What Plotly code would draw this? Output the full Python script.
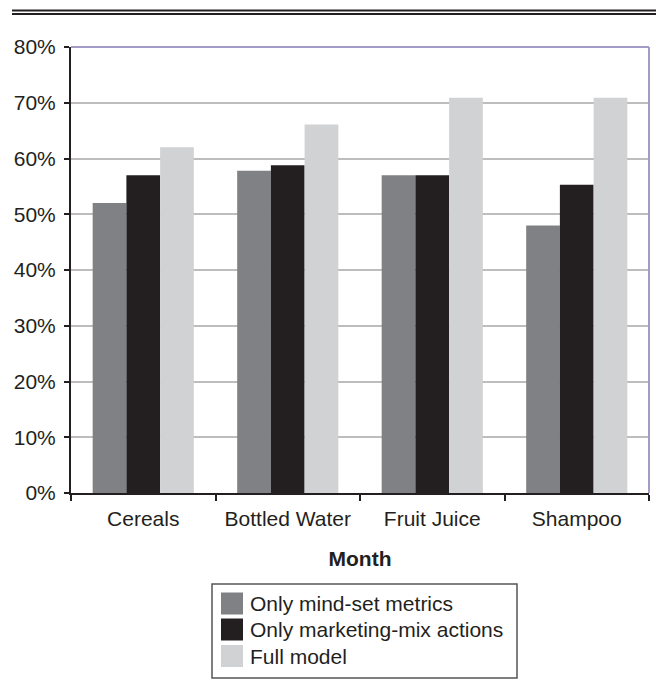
import plotly.graph_objects as go

# Categories and series (share of variance explained)
categories = ["Cereals", "Bottled Water", "Fruit Juice", "Shampoo"]
series_names = ["Only mind-set metrics", "Only marketing-mix actions", "Full model"]
mindset = [0.52, 0.578, 0.57, 0.48]
marketing_mix = [0.57, 0.588, 0.57, 0.553]
full_model = [0.62, 0.661, 0.709, 0.709]
series_values = [mindset, marketing_mix, full_model]
series_colors = ["#808184", "#231f20", "#d1d2d4"]
y_ticks = [0, 0.1, 0.2, 0.3, 0.4, 0.5, 0.6, 0.7, 0.8]
x_title = "Month"

W, H = 656, 683
ML, MR, MT, MB = 71, 7, 47, 190
PW, PH = W - ML - MR, H - MT - MB
FS = 21


def px_x(x):
    return (x - ML) / PW


def px_y(y):
    return (H - MB - y) / PH


fig = go.Figure()
for name, vals, col in zip(series_names, series_values, series_colors):
    fig.add_trace(go.Bar(x=categories, y=vals, name=name,
                         marker=dict(color=col, line=dict(width=0))))

font = "Liberation Sans, Arial, Helvetica, sans-serif"
shapes = []
# double rule across the top of the page
for y, w in [(10.5, 2), (14, 2)]:
    shapes.append(dict(type="line", xref="paper", yref="paper",
                       x0=px_x(12), x1=px_x(656), y0=px_y(y), y1=px_y(y),
                       line=dict(color="#231f20", width=w)))
# purple frame on top and right of the plot area
shapes.append(dict(type="line", xref="paper", yref="paper", x0=0, x1=1, y0=1, y1=1,
                   line=dict(color="#a49cc6", width=2)))
shapes.append(dict(type="line", xref="paper", yref="paper", x0=1, x1=1, y0=0, y1=1,
                   line=dict(color="#a49cc6", width=2)))

# legend box with square swatches
shapes.append(dict(type="rect", xref="paper", yref="paper",
                   x0=px_x(212), x1=px_x(517), y0=px_y(584), y1=px_y(678),
                   line=dict(color="#555555", width=1.5), fillcolor="white"))
annotations = []
row_centers = [603.5, 629.5, 656]
for name, col, yc in zip(series_names, series_colors, row_centers):
    shapes.append(dict(type="rect", xref="paper", yref="paper",
                       x0=px_x(221), x1=px_x(243), y0=px_y(yc - 11), y1=px_y(yc + 11),
                       line=dict(width=0), fillcolor=col))
    annotations.append(dict(xref="paper", yref="paper", x=px_x(248), y=px_y(yc),
                            text=name, showarrow=False, xanchor="left", yanchor="middle",
                            font=dict(family=font, size=FS, color="#231f20")))

fig.update_layout(
    width=W, height=H,
    margin=dict(l=ML, r=MR, t=MT, b=MB),
    paper_bgcolor="white", plot_bgcolor="white",
    barmode="group", bargap=0.3, bargroupgap=0,
    showlegend=False,
    font=dict(family=font, size=FS, color="#231f20"),
    shapes=shapes, annotations=annotations,
    xaxis=dict(
        showline=True, linecolor="#231f20", linewidth=2,
        ticks="outside", tickson="boundaries", ticklen=6, tickwidth=2, tickcolor="#231f20",
        ticklabelstandoff=6,
        showgrid=False,
        title=dict(text="<b>" + x_title + "</b>", standoff=22,
                   font=dict(family=font, size=FS, color="#231f20")),
        tickfont=dict(family=font, size=FS, color="#231f20"),
    ),
    yaxis=dict(
        range=[0, 0.8], tickvals=y_ticks, tickformat=".0%",
        showline=True, linecolor="#231f20", linewidth=2,
        ticks="outside", ticklen=5, tickwidth=2, tickcolor="#231f20",
        ticklabelstandoff=4,
        showgrid=True, gridcolor="#bdbdbd", gridwidth=1.5,
        zeroline=False,
        tickfont=dict(family=font, size=FS, color="#231f20"),
    ),
)

fig.write_html("out.html")
